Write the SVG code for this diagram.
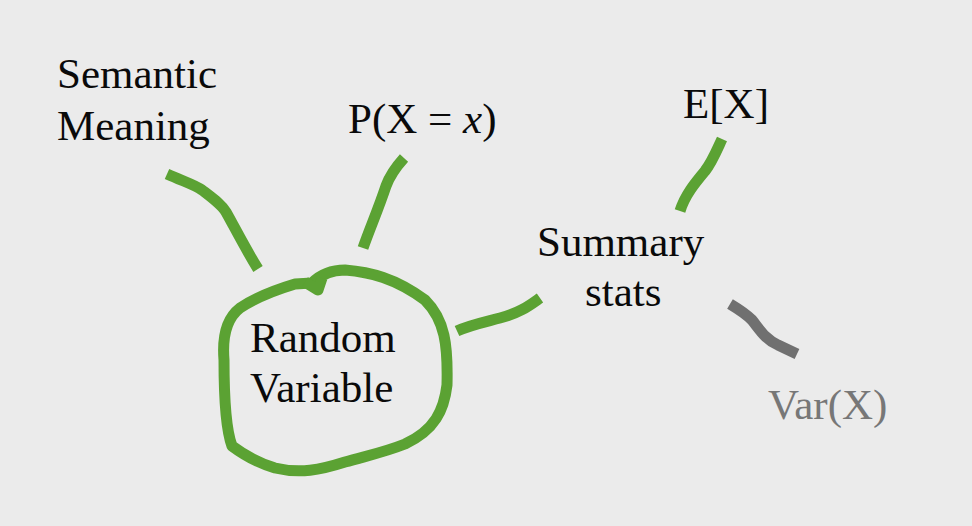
<svg xmlns="http://www.w3.org/2000/svg" width="972" height="526" viewBox="0 0 972 526">
<style>
.t{font-family:"Liberation Serif","Times New Roman",serif;font-size:43px;fill:#0a0a0a}
.g{fill:none;stroke:#5ba233;stroke-width:11;stroke-linecap:butt;stroke-linejoin:round}
.k{fill:none;stroke:#707070;stroke-width:11;stroke-linejoin:round}
</style>
<rect width="972" height="526" fill="#ebebeb"/>
<g id="connectors">
<path class="g" d="M167,174 C185,182 195,185 202,190 C215,200 222,205 226,212 C235,228 245,248 258,269"/>
<path class="g" d="M404,158 C395,168 390,175 386,186 C378,210 370,228 363,248"/>
<path class="g" d="M457,331 C470,325 485,322 500,318 C520,313 530,305 540,298"/>
<path class="g" d="M722,139 C716,152 712,162 705,171 C695,183 685,195 680,211"/>
<path class="k" d="M730,304 C740,310 746,314 752,320 C760,330 766,340 778,345 L797,354"/>
</g>
<g id="random-variable">
<path class="g" d="M312,283 C320,275 330,270 345,270 C370,272 395,278 425,300 C445,320 448,345 447,385 C444,410 435,430 405,444 C385,452 370,455 345,462 C320,470 300,474 275,468 C255,462 240,452 232,446 C226,430 224,400 224,360 C222,335 227,318 240,308 C255,298 275,290 295,284 Z"/>
<path class="g" d="M305,282 L318,290 L322,278" />
<text class="t" x="250" y="352">Random</text>
<text class="t" x="250" y="402">Variable</text>
</g>
<g id="semantic-meaning">
<text class="t" x="57" y="88">Semantic</text>
<text class="t" x="57" y="140">Meaning</text>
</g>
<g id="pmf">
<text class="t" x="348" y="133">P(X = <tspan font-style="italic">x</tspan>)</text>
</g>
<g id="summary-stats">
<text class="t" x="537" y="256">Summary</text>
<text class="t" x="585" y="306">stats</text>
</g>
<g id="expectation">
<text class="t" x="683" y="118">E[X]</text>
</g>
<g id="variance">
<text class="t" x="768" y="419" style="fill:#777">Var(X)</text>
</g>
</svg>
